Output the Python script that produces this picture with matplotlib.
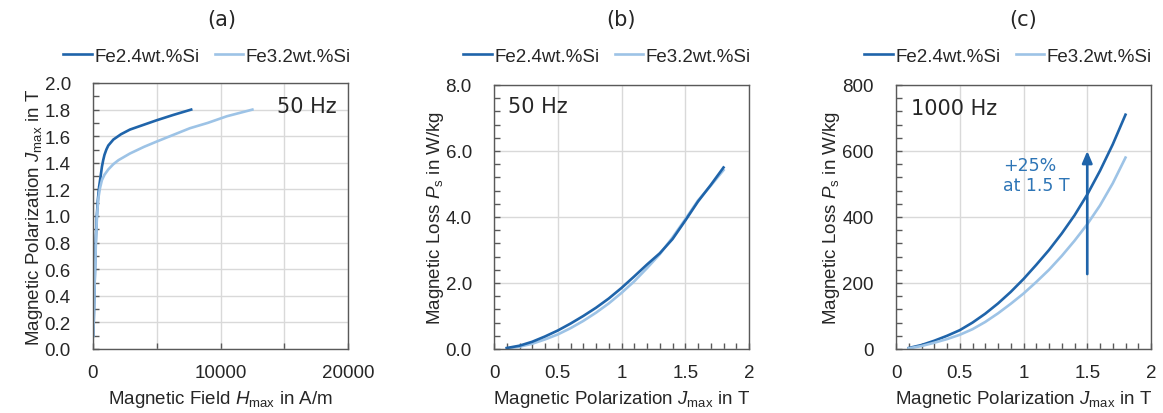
import matplotlib
matplotlib.use("Agg")
import matplotlib.pyplot as plt
from matplotlib.ticker import MultipleLocator, FixedLocator

plt.rcParams["font.family"] = ["Liberation Sans", "DejaVu Sans"]
plt.rcParams["mathtext.fontset"] = "custom"
plt.rcParams["mathtext.rm"] = "Liberation Sans"
plt.rcParams["mathtext.it"] = "Liberation Sans:italic"

DARK = "#1f64aa"
LIGHT = "#9dc3e6"
TXT = "#262626"
ANNOT = "#2e75b6"
FS = 13.5

labels = ["Fe2.4wt.%Si", "Fe3.2wt.%Si"]

# (a) magnetization curves at 50 Hz
h_fe24 = [30, 80, 130, 180, 230, 300, 380, 480, 600, 700, 800, 900, 1050, 1200, 1600, 2200, 2900, 3800, 5000, 6300, 7700]
j_fe24 = [0.10, 0.30, 0.50, 0.70, 0.85, 1.00, 1.12, 1.22, 1.30, 1.37, 1.42, 1.46, 1.50, 1.53, 1.575, 1.615, 1.65, 1.68, 1.72, 1.76, 1.80]
h_fe32 = [30, 80, 130, 180, 230, 290, 350, 430, 550, 700, 900, 1200, 1600, 2000, 2900, 4000, 5000, 6300, 7600, 9000, 10500, 12500]
j_fe32 = [0.10, 0.30, 0.50, 0.65, 0.80, 0.95, 1.05, 1.14, 1.21, 1.27, 1.31, 1.35, 1.39, 1.42, 1.47, 1.52, 1.56, 1.61, 1.66, 1.70, 1.75, 1.80]

# (b) and (c) specific loss versus polarization
jmax = [0.1, 0.2, 0.3, 0.4, 0.5, 0.6, 0.7, 0.8, 0.9, 1.0, 1.1, 1.2, 1.3, 1.4, 1.5, 1.6, 1.7, 1.8]
p50_fe24 = [0.03, 0.10, 0.22, 0.38, 0.56, 0.77, 1.00, 1.25, 1.53, 1.85, 2.20, 2.56, 2.90, 3.33, 3.89, 4.47, 4.97, 5.50]
p50_fe32 = [0.02, 0.07, 0.16, 0.29, 0.44, 0.63, 0.85, 1.10, 1.38, 1.70, 2.05, 2.45, 2.87, 3.38, 3.93, 4.50, 4.95, 5.42]
p1k_fe24 = [3, 12, 25, 40, 57, 80, 107, 138, 173, 212, 255, 300, 350, 405, 468, 540, 620, 710]
p1k_fe32 = [2, 9, 19, 30, 43, 60, 82, 108, 137, 168, 203, 240, 282, 328, 378, 435, 502, 580]

W, H = 1163, 414
fig = plt.figure(figsize=(W / 100, H / 100), dpi=100)


def px_axes(left, right, top, bottom):
    return fig.add_axes([left / W, 1 - bottom / H, (right - left) / W, (bottom - top) / H])


def style(ax):
    for s in ax.spines.values():
        s.set_color("#595959")
        s.set_linewidth(1.0)
    ax.tick_params(which="both", direction="in", colors="#595959", labelcolor=TXT,
                   labelsize=FS, top=False, right=False)
    ax.tick_params(which="major", length=4, width=1.0)
    ax.tick_params(which="minor", length=4, width=1.0)
    ax.tick_params(axis="y", which="major", pad=16)
    ax.tick_params(axis="x", which="major", pad=11)
    ax.grid(True, which="major", color="#d9d9d9", linewidth=1.0)
    ax.set_axisbelow(True)


def legend(ax, handles, cx):
    ax.legend(handles, labels, loc="center", bbox_to_anchor=(cx / W, 1 - 57 / H),
              bbox_transform=fig.transFigure, ncol=2, frameon=False, fontsize=FS,
              handlelength=1.5, handletextpad=0.15, columnspacing=0.8, borderpad=0,
              labelcolor=TXT)


# panel (a)
axa = px_axes(93, 348, 84, 350)
style(axa)
la1, = axa.plot(h_fe24, j_fe24, color=DARK, lw=1.9)
la2, = axa.plot(h_fe32, j_fe32, color=LIGHT, lw=1.9)
axa.set_xlim(0, 20000)
axa.set_ylim(0, 2.0)
axa.xaxis.set_major_locator(FixedLocator([0, 10000, 20000]))
axa.xaxis.set_minor_locator(FixedLocator([5000, 15000]))
axa.grid(True, which="minor", axis="x", color="#d9d9d9", linewidth=1.0)
axa.yaxis.set_major_locator(MultipleLocator(0.2))
axa.yaxis.set_minor_locator(MultipleLocator(0.1))
axa.yaxis.set_major_formatter(lambda v, p: f"{v:.1f}")
axa.set_xlabel(r"Magnetic Field $\mathit{H}_{\mathrm{max}}$ in A/m", fontsize=FS, color=TXT, labelpad=5)
axa.set_ylabel(r"Magnetic Polarization $\mathit{J}_{\mathrm{max}}$ in T", fontsize=FS, color=TXT, labelpad=0)
axa.text(19100, 1.83, "50 Hz", ha="right", va="center", fontsize=15, color=TXT, family="DejaVu Sans")
legend(axa, [la1, la2], 207)
fig.text(222 / W, 1 - 20 / H, "(a)", ha="center", va="center", fontsize=15, color=TXT, family="DejaVu Sans")


def loss_axes(left, ymax, ymaj, ymin, fmt):
    ax = px_axes(left, left + 255, 86, 350)
    style(ax)
    ax.set_xlim(0, 2)
    ax.set_ylim(0, ymax)
    ax.xaxis.set_major_locator(MultipleLocator(0.5))
    ax.xaxis.set_minor_locator(MultipleLocator(0.1))
    ax.xaxis.set_major_formatter(lambda v, p: f"{v:g}")
    ax.yaxis.set_major_locator(MultipleLocator(ymaj))
    ax.yaxis.set_minor_locator(MultipleLocator(ymin))
    ax.yaxis.set_major_formatter(fmt)
    ax.set_xlabel(r"Magnetic Polarization $\mathit{J}_{\mathrm{max}}$ in T", fontsize=FS, color=TXT, labelpad=5)
    ax.set_ylabel(r"Magnetic Loss $\mathit{P}_{\mathrm{s}}$ in W/kg", fontsize=FS, color=TXT, labelpad=0)
    return ax


# panel (b)
axb = loss_axes(494, 8.0, 2.0, 0.4, lambda v, p: f"{v:.1f}")
lb2, = axb.plot(jmax, p50_fe32, color=LIGHT, lw=1.9)
lb1, = axb.plot(jmax, p50_fe24, color=DARK, lw=1.9)
axb.text(0.11, 7.36, "50 Hz", ha="left", va="center", fontsize=15, color=TXT, family="DejaVu Sans")
legend(axb, [lb1, lb2], 607)
fig.text(621 / W, 1 - 20 / H, "(b)", ha="center", va="center", fontsize=15, color=TXT, family="DejaVu Sans")

# panel (c)
axc = loss_axes(896, 800, 200, 40, lambda v, p: f"{v:.0f}")
lc1, = axc.plot(jmax, p1k_fe24, color=DARK, lw=1.9)
lc2, = axc.plot(jmax, p1k_fe32, color=LIGHT, lw=1.9)
axc.annotate("", xy=(1.5, 600), xytext=(1.5, 227),
             arrowprops=dict(arrowstyle="-|>,head_length=0.7,head_width=0.3", color=DARK, lw=1.9,
                             shrinkA=0, shrinkB=0))
axc.text(0.84, 527, "+25%\nat 1.5 T", ha="left", va="center", fontsize=12.5, color=ANNOT,
         family="DejaVu Sans", linespacing=1.15)
axc.text(0.12, 731, "1000 Hz", ha="left", va="center", fontsize=15, color=TXT, family="DejaVu Sans")
legend(axc, [lc1, lc2], 1008)
fig.text(1023 / W, 1 - 20 / H, "(c)", ha="center", va="center", fontsize=15, color=TXT, family="DejaVu Sans")

fig.savefig("out.png", dpi=100)
